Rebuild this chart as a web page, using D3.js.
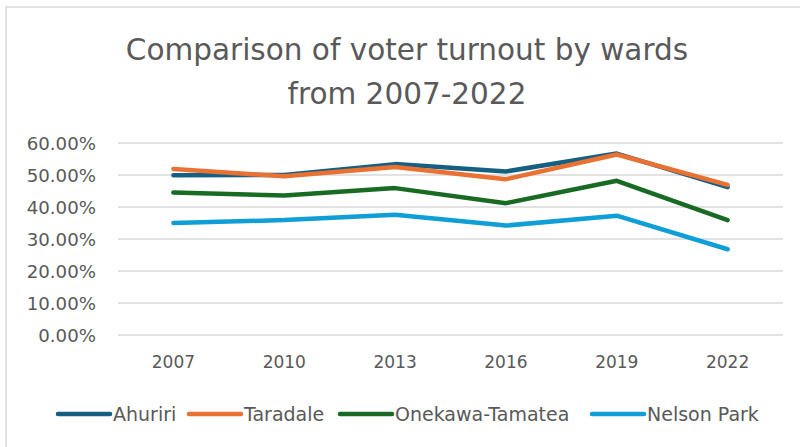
<!DOCTYPE html>
<html>
<head>
<meta charset="utf-8">
<script src="https://cdn.jsdelivr.net/npm/d3@7"></script>
<style>
  html, body { margin: 0; padding: 0; background: #fff; }
  svg { display: block; }
  text { font-family: "DejaVu Sans", "Liberation Sans", Arial, sans-serif; fill: #595959; }
</style>
</head>
<body>
<svg id="chart" width="800" height="447"></svg>
<script>
// Election years (categories)
const years = ["2007", "2010", "2013", "2016", "2019", "2022"];

// Turnout per ward, as fractions
const ahuriri        = [0.499, 0.500, 0.534, 0.511, 0.567, 0.462];
const taradale       = [0.519, 0.496, 0.525, 0.487, 0.564, 0.469];
const onekawaTamatea = [0.445, 0.436, 0.459, 0.412, 0.482, 0.359];
const nelsonPark     = [0.350, 0.359, 0.376, 0.342, 0.373, 0.268];

const seriesNames  = ["Ahuriri", "Taradale", "Onekawa-Tamatea", "Nelson Park"];
const seriesValues = [ahuriri, taradale, onekawaTamatea, nelsonPark];
const seriesColors = ["#156082", "#E97132", "#196B24", "#0F9ED5"];

const yTicks = [0, 0.1, 0.2, 0.3, 0.4, 0.5, 0.6];

const svg = d3.select("#chart");
const W = 800, H = 447;
const FONT = "DejaVu Sans, Liberation Sans, Arial, sans-serif";

// Chart frame
svg.append("rect")
  .attr("x", 6).attr("y", 7)
  .attr("width", W + 20).attr("height", H + 20)
  .attr("fill", "none").attr("stroke", "#d9d9d9").attr("stroke-width", 1.5);

// Title
const title = svg.append("text")
  .attr("text-anchor", "middle")
  .attr("font-size", 29.5);
title.append("tspan").attr("x", 407).attr("y", 60).text("Comparison of voter turnout by wards");
title.append("tspan").attr("x", 407).attr("y", 104).text("from 2007-2022");

const plot = { left: 118, right: 783, top: 143, bottom: 335 };

const x = d3.scaleBand().domain(years).range([plot.left, plot.right]);
const y = d3.scaleLinear().domain([0, 0.6]).range([plot.bottom, plot.top]);

// Horizontal gridlines
svg.append("g")
  .selectAll("line")
  .data(yTicks)
  .join("line")
  .attr("x1", plot.left).attr("x2", plot.right)
  .attr("y1", d => y(d)).attr("y2", d => y(d))
  .attr("stroke", "#d9d9d9").attr("stroke-width", 1.5);

// Y axis labels
const yAxis = svg.append("g")
  .attr("transform", `translate(${plot.left - 22},0)`)
  .call(d3.axisLeft(y).tickValues(yTicks).tickFormat(d3.format(".2%")).tickSize(0).tickPadding(0));
yAxis.select(".domain").remove();
yAxis.selectAll("text")
  .attr("font-size", 18.2)
  .attr("font-family", FONT)
  .attr("fill", "#595959")
  .attr("dy", "0.35em");

// X axis labels
const xAxis = svg.append("g")
  .attr("transform", `translate(0,${plot.bottom + 21})`)
  .call(d3.axisBottom(x).tickSize(0).tickPadding(0));
xAxis.select(".domain").remove();
xAxis.selectAll("text")
  .attr("font-size", 17)
  .attr("font-family", FONT)
  .attr("fill", "#595959")
  .attr("dy", "0.71em");

// Series lines
const line = d3.line()
  .x((d, i) => x(years[i]) + x.bandwidth() / 2)
  .y(d => y(d));

svg.append("g")
  .selectAll("path")
  .data(seriesValues)
  .join("path")
  .attr("d", d => line(d))
  .attr("fill", "none")
  .attr("stroke", (d, i) => seriesColors[i])
  .attr("stroke-width", 4.5)
  .attr("stroke-linecap", "round")
  .attr("stroke-linejoin", "round");

// Legend
const legendX = [58, 189, 340, 592];
const legend = svg.append("g")
  .selectAll("g")
  .data(seriesNames)
  .join("g")
  .attr("transform", (d, i) => `translate(${legendX[i]},414)`);
legend.append("line")
  .attr("x1", 0).attr("x2", 52)
  .attr("stroke", (d, i) => seriesColors[i])
  .attr("stroke-width", 4.5)
  .attr("stroke-linecap", "round");
legend.append("text")
  .attr("x", 55)
  .attr("dy", "0.35em")
  .attr("font-size", 19)
  .text(d => d);
</script>
</body>
</html>
